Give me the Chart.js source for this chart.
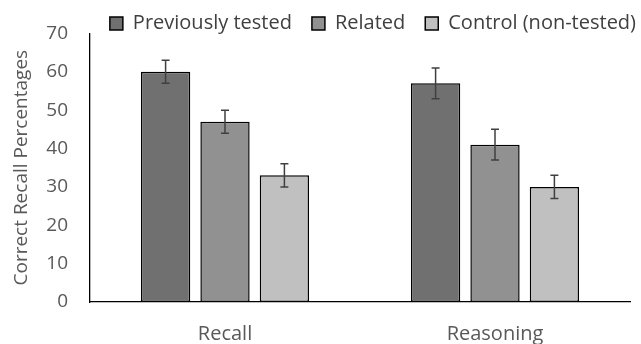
<!DOCTYPE html>
<html lang="en">
  <head>
    <meta charset="UTF-8" />
    <title>Correct Recall Percentages</title>
    <script src="https://cdn.jsdelivr.net/npm/chart.js"></script>
    <style>
      html, body { margin: 0; padding: 0; background: #fff; overflow: hidden; }
      #wrap { width: 641px; height: 344px; position: relative; }
    </style>
  </head>
  <body>
    <div id="wrap"><canvas id="chart"></canvas></div>
    <script>
      // values
      const categories = ['Recall', 'Reasoning'];
      const seriesNames = ['Previously tested', 'Related', 'Control (non-tested)'];
      const previouslyTested = [60, 57];
      const related = [47, 41];
      const control = [33, 30];
      const errPrev = [3, 4];
      const errRelated = [3, 4];
      const errControl = [3, 3];
      const yTicks = [0, 10, 20, 30, 40, 50, 60, 70];

      const fills = ['#707070', '#919191', '#c0c0c0'];
      const textColor = '#595959';
      const font = "'Open Sans', 'Noto Sans', sans-serif";

      // draws the error whiskers using the bar positions and y scale
      const errorBars = {
        id: 'errorBars',
        afterDatasetsDraw(chart) {
          const ctx = chart.ctx;
          const yScale = chart.scales.y;
          chart.data.datasets.forEach((ds, i) => {
            const meta = chart.getDatasetMeta(i);
            meta.data.forEach((bar, j) => {
              const v = ds.data[j];
              const e = ds.errors[j];
              const top = yScale.getPixelForValue(v + e);
              const bot = yScale.getPixelForValue(v - e);
              ctx.save();
              ctx.strokeStyle = '#404040';
              ctx.lineWidth = 1.5;
              ctx.beginPath();
              ctx.moveTo(bar.x, top);
              ctx.lineTo(bar.x, bot);
              ctx.moveTo(bar.x - 4, top);
              ctx.lineTo(bar.x + 4, top);
              ctx.moveTo(bar.x - 4, bot);
              ctx.lineTo(bar.x + 4, bot);
              ctx.stroke();
              ctx.restore();
            });
          });
        }
      };

      // legend sits partly beside the top of the y axis, so keep its box short
      const legendTuck = {
        id: 'legendTuck',
        afterInit(chart) {
          const legend = chart.legend;
          const fit = legend.fit;
          legend.fit = function () {
            fit.call(this);
            this.height = 18;
          };
        },
        afterLayout(chart) {
          const legend = chart.legend;
          legend.top -= 22;
          legend.bottom = legend.top + 60; // legend clips to its own box
          legend.left += 26;
          legend.right += 26;
        }
      };

      const values = [previouslyTested, related, control];
      const errors = [errPrev, errRelated, errControl];

      new Chart(document.getElementById('chart'), {
        type: 'bar',
        data: {
          labels: categories,
          datasets: seriesNames.map((name, i) => ({
            label: name,
            data: values[i],
            errors: errors[i],
            backgroundColor: fills[i],
            borderColor: '#000',
            borderWidth: 1.5,
            borderSkipped: false,
            categoryPercentage: 0.66,
            barPercentage: 0.83
          }))
        },
        options: {
          responsive: true,
          maintainAspectRatio: false,
          animation: false,
          layout: { padding: { top: 2, right: 11, left: 6, bottom: 0 } },
          plugins: {
            tooltip: { enabled: false },
            legend: {
              position: 'top',
              align: 'end',
              labels: {
                color: '#404040',
                font: { family: font, size: 20 },
                boxWidth: 13,
                boxHeight: 13,
                padding: 20,
                useBorderRadius: false
              }
            }
          },
          scales: {
            x: {
              afterFit: axis => { axis.height = 42; },
              grid: { display: false, drawTicks: false },
              border: { display: true, color: '#000', width: 1.3 },
              ticks: { color: textColor, font: { family: font, size: 20 }, padding: 20 }
            },
            y: {
              min: 0,
              max: 70,
              afterBuildTicks: axis => { axis.ticks = yTicks.map(v => ({ value: v })); },
              afterFit: axis => { axis.width = 84; },
              grid: { display: false, drawTicks: false },
              border: { display: true, color: '#000', width: 1.3 },
              ticks: { color: textColor, font: { family: font, size: 19 }, padding: 22 },
              title: {
                display: true,
                text: 'Correct Recall Percentages',
                color: textColor,
                font: { family: font, size: 19 },
                padding: { bottom: 2 }
              }
            }
          }
        },
        plugins: [errorBars, legendTuck]
      });
    </script>
  </body>
</html>
